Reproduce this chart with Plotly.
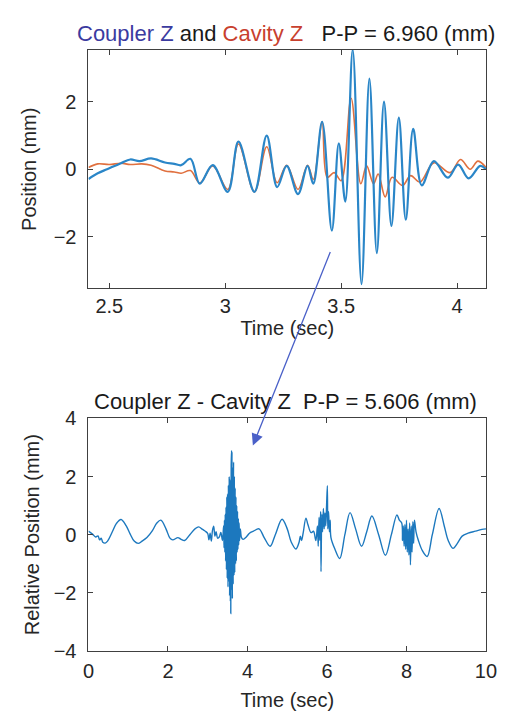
import plotly.graph_objects as go

# ---------------- data ----------------
coupler_t = [2.41, 2.45, 2.49, 2.55, 2.59, 2.63, 2.68, 2.74, 2.78, 2.81, 2.85, 2.89, 2.946,
             3.011, 3.057, 3.126, 3.179, 3.224, 3.265, 3.314, 3.355, 3.38, 3.418, 3.46, 3.49,
             3.518, 3.55, 3.588, 3.622, 3.654, 3.685, 3.717, 3.749, 3.779, 3.811, 3.848, 3.90,
             3.96, 4.005, 4.05, 4.10, 4.125]
coupler_z = [-0.29, -0.12, 0.00, 0.18, 0.29, 0.24, 0.32, 0.20, 0.16, 0.12, 0.31, -0.43, 0.12,
             -0.67, 0.82, -0.67, 1.00, -0.53, 0.10, -0.74, 0.10, -0.43, 1.41, -1.82, 0.77,
             -0.96, 3.55, -3.41, 2.69, -2.49, 2.01, -1.68, 1.53, -1.50, 1.20, -0.48, 0.24,
             -0.25, 0.14, -0.27, 0.10, 0.00]

cavity_t = [2.41, 2.45, 2.50, 2.55, 2.59, 2.64, 2.68, 2.74, 2.78, 2.81, 2.85, 2.89, 2.946,
            3.011, 3.057, 3.126, 3.179, 3.224, 3.265, 3.314, 3.355, 3.38, 3.418, 3.44, 3.47,
            3.50, 3.543, 3.585, 3.61, 3.64, 3.66, 3.69, 3.72, 3.765, 3.80, 3.84, 3.90, 3.97,
            4.015, 4.057, 4.09, 4.125]
cavity_z = [0.05, 0.16, 0.14, 0.18, 0.14, 0.16, 0.12, -0.05, -0.08, -0.12, -0.04, -0.41, 0.10,
            -0.60, 0.75, -0.67, 0.67, -0.40, 0.12, -0.60, 0.12, -0.30, 1.41, -0.24, -0.10,
            -0.34, 2.11, -0.43, 0.10, -0.43, -0.14, -0.82, -0.24, -0.48, -0.19, -0.38, 0.19, -0.10,
            0.29, 0.00, 0.24, 0.05]

rel_t = [0.00, 0.10, 0.18, 0.24, 0.28, 0.32, 0.36, 0.42, 0.48, 0.60, 0.70, 0.82, 0.95, 1.05,
         1.15, 1.25, 1.35, 1.47, 1.60, 1.72, 1.82, 1.95, 2.05, 2.12, 2.25, 2.32, 2.42, 2.55,
         2.68, 2.77, 2.87, 2.94, 3.00, 3.03, 3.06, 3.09, 3.12, 3.15, 3.18, 3.21, 3.25, 3.29,
         3.33, 3.37,
         3.400, 3.410, 3.420, 3.430, 3.440, 3.450, 3.460, 3.470, 3.480, 3.490, 3.500, 3.510,
         3.520, 3.530, 3.540, 3.550, 3.560, 3.570, 3.575, 3.580, 3.590, 3.600, 3.605, 3.610,
         3.620, 3.630, 3.640, 3.650, 3.660, 3.670, 3.680, 3.690, 3.700, 3.710, 3.720, 3.730,
         3.740, 3.750, 3.760, 3.770, 3.780, 3.790, 3.800, 3.820, 3.85,
         3.89, 3.97, 4.05, 4.15, 4.29, 4.42, 4.57, 4.70, 4.87, 5.00, 5.10, 5.22, 5.30, 5.33,
         5.36, 5.40, 5.47, 5.52, 5.60, 5.66, 5.72,
         5.76, 5.78, 5.80, 5.82, 5.84, 5.85, 5.87, 5.89, 5.91, 5.93, 5.95, 5.97, 5.99, 6.01,
         6.02, 6.04, 6.06, 6.08, 6.10,
         6.20, 6.32, 6.45, 6.58, 6.72, 6.87, 7.00, 7.13, 7.30, 7.47, 7.62, 7.76, 7.82,
         7.88, 7.90, 7.92, 7.94, 7.96, 7.98, 8.00, 8.02, 8.04, 8.06, 8.08, 8.10, 8.12, 8.14,
         8.16, 8.18, 8.20, 8.24,
         8.30, 8.40, 8.52, 8.65, 8.82, 8.95, 9.05, 9.17, 9.28, 9.40, 9.55, 9.73, 9.90, 10.0]
rel_z = [0.12, 0.02, -0.08, -0.04, -0.18, -0.12, -0.26, -0.29, -0.22, 0.10, 0.38, 0.52, 0.30,
         0.02, -0.22, -0.30, -0.22, -0.10, 0.12, 0.40, 0.50, 0.20, -0.12, -0.18, -0.10, -0.15,
         -0.20, 0.00, 0.20, 0.27, 0.18, 0.12, 0.04, -0.18, 0.05, -0.22, 0.15, 0.29, -0.05, 0.10,
         -0.12, -0.08, 0.08, -0.20,
         0.30, -0.45, 0.50, -0.60, 0.70, -0.90, 0.95, -1.20, 1.30, -1.50, 1.40, -1.80,
         1.70, -1.60, 2.00, -2.10, 1.90, -2.30, 1.50, -2.71, 2.40, 2.90, -1.90, 2.85,
         -2.20, 2.30, -1.70, 2.50, -1.40, 2.00, -1.30, 1.60, -1.00, 1.30, -0.90, 1.00,
         -0.60, 0.80, -0.50, 0.55, -0.35, 0.40, -0.20, 0.20, -0.10,
         -0.16, -0.08, 0.05, 0.12, 0.20, -0.10, -0.40, 0.00, 0.53, 0.20, -0.25, -0.49, -0.25,
         -0.05, -0.20, 0.05, 0.57, 0.35, 0.07, 0.12, -0.20,
         0.30, -0.40, 0.60, -0.20, 0.80, -1.27, 0.70, 0.10, 0.90, 0.20, 0.75, 0.30, 1.00, 1.68,
         0.20, 0.80, 0.10, 0.50, -0.10,
         -0.50, -0.82, 0.00, 0.76, 0.20, -0.40, 0.10, 0.64, 0.00, -0.71, 0.00, 0.68, 0.50,
         0.40, -0.20, 0.30, -0.40, 0.35, -0.50, 0.50, -0.60, 0.20, -0.70, 0.40, -1.04, 0.30,
         -0.60, 0.45, -0.30, 0.50, 0.10,
         -0.20, -0.55, -0.75, 0.00, 0.90, 0.30, -0.20, -0.47, -0.30, -0.05, 0.05, 0.12, 0.18,
         0.20]

top_xticks = [2.5, 3, 3.5, 4]
top_yticks = [-2, 0, 2]
bot_xticks = [0, 2, 4, 6, 8, 10]
bot_yticks = [-4, -2, 0, 2, 4]

# ---------------- figure ----------------
W, H = 518, 717
FONT = "Liberation Sans, Arial, sans-serif"
TXT = "#262626"
FS = 20

def px(x):
    return x / W

def py(y):
    return 1 - y / H

fig = go.Figure()

fig.add_trace(go.Scatter(x=cavity_t, y=cavity_z, mode="lines", line_shape="spline",
                         line=dict(color="#E0703F", width=1.6), xaxis="x", yaxis="y",
                         showlegend=False))
fig.add_trace(go.Scatter(x=coupler_t, y=coupler_z, mode="lines", line_shape="spline",
                         line=dict(color="#2A86C8", width=2.2), xaxis="x", yaxis="y",
                         showlegend=False))
fig.add_trace(go.Scatter(x=rel_t, y=rel_z, mode="lines", line_shape="spline",
                         line=dict(color="#1C78BE", width=1.4), xaxis="x2", yaxis="y2",
                         showlegend=False))

axis_common = dict(showline=True, mirror="allticks", linecolor="#404040", linewidth=1,
                   ticks="inside", ticklen=5, tickcolor="#404040", showgrid=False,
                   zeroline=False, tickfont=dict(family=FONT, size=FS, color=TXT))
title_font = dict(family=FONT, size=FS, color=TXT)

x_dom = [px(77), px(488)]
fig.update_layout(
    width=W, height=H,
    margin=dict(l=0, r=0, t=0, b=0),
    paper_bgcolor="white", plot_bgcolor="white",
    font=dict(family=FONT, color=TXT),
    xaxis=dict(domain=x_dom, anchor="y", range=[2.41, 4.125], tickvals=top_xticks,
               ticktext=["2.5", "3", "3.5", "4"], ticklabelstandoff=0,
               title=dict(text="Time (sec)", font=title_font, standoff=4),
               **axis_common),
    yaxis=dict(domain=[py(278), py(32)], anchor="x", range=[-3.54, 3.54], tickvals=top_yticks,
               ticklabelstandoff=7,
               title=dict(text="Position (mm)", font=title_font, standoff=11),
               **axis_common),
    xaxis2=dict(domain=x_dom, anchor="y2", range=[0, 10], tickvals=bot_xticks,
                ticklabelstandoff=2,
                title=dict(text="Time (sec)", font=title_font, standoff=12),
                **axis_common),
    yaxis2=dict(domain=[py(652), py(412)], anchor="x2", range=[-4, 4], tickvals=bot_yticks,
                ticklabelstandoff=7,
                title=dict(text="Relative Position (mm)", font=title_font, standoff=8),
                **axis_common),
)

fig.add_annotation(
    xref="paper", yref="paper", x=px(281), y=py(15), showarrow=False,
    xanchor="center", yanchor="middle",
    text="<span style='color:#3B3BA0'>Coupler Z</span> and "
         "<span style='color:#C8402E'>Cavity Z</span>&nbsp;&nbsp;&nbsp;P-P = 6.960 (mm)",
    font=dict(family=FONT, size=22, color="#1a1a1a"))
fig.add_annotation(
    xref="paper", yref="paper", x=px(281), y=py(395), showarrow=False,
    xanchor="center", yanchor="middle",
    text="Coupler Z - Cavity Z&nbsp;&nbsp;P-P = 5.606 (mm)",
    font=dict(family=FONT, size=22, color="#1a1a1a"))

# arrow from the top panel to the burst in the bottom panel
fig.add_annotation(
    xref="paper", yref="paper", axref="pixel", ayref="pixel",
    x=px(247), y=py(440), ax=325 - 247, ay=245 - 440, text="",
    showarrow=True, arrowhead=2, arrowsize=1.8, arrowwidth=1.3, arrowcolor="#4A60C8")

fig.write_html("out.html")
